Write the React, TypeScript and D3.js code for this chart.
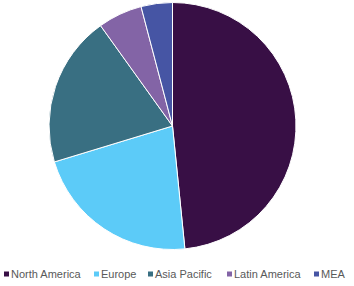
import React from "react";
import * as d3 from "d3";

const categories = ["North America", "Europe", "Asia Pacific", "Latin America", "MEA"];
const values = [48.4, 21.9, 19.8, 5.8, 4.1];
const colors = ["#380f45", "#5ccbf8", "#396f82", "#8364a6", "#4655a4"];
const legendX = [4, 94, 148, 227, 314];

export default function App() {
  const W = 354, H = 286;
  const cx = 172.5, cy = 126, r = 123.5;
  const pie = d3.pie<number>().sort(null).value((d) => d)(values);
  const arc = d3.arc<d3.PieArcDatum<number>>().innerRadius(0).outerRadius(r);
  return (
    <svg width={W} height={H} style={{ position: "absolute", left: 0, top: 0, fontFamily: "Liberation Sans, Arial, sans-serif" }}>
      <rect width={W} height={H} fill="#fff" />
      <g transform={`translate(${cx},${cy})`}>
        {pie.map((p, i) => (
          <path key={i} d={arc(p) || ""} fill={colors[i]} stroke="#fff" strokeWidth={1} />
        ))}
      </g>
      {categories.map((c, i) => (
        <g key={c}>
          <rect x={legendX[i]} y={271.5} width={5} height={5} fill={colors[i]} />
          <text x={legendX[i] + 7} y={278} fontSize={11} fill="#595959">{c}</text>
        </g>
      ))}
    </svg>
  );
}
